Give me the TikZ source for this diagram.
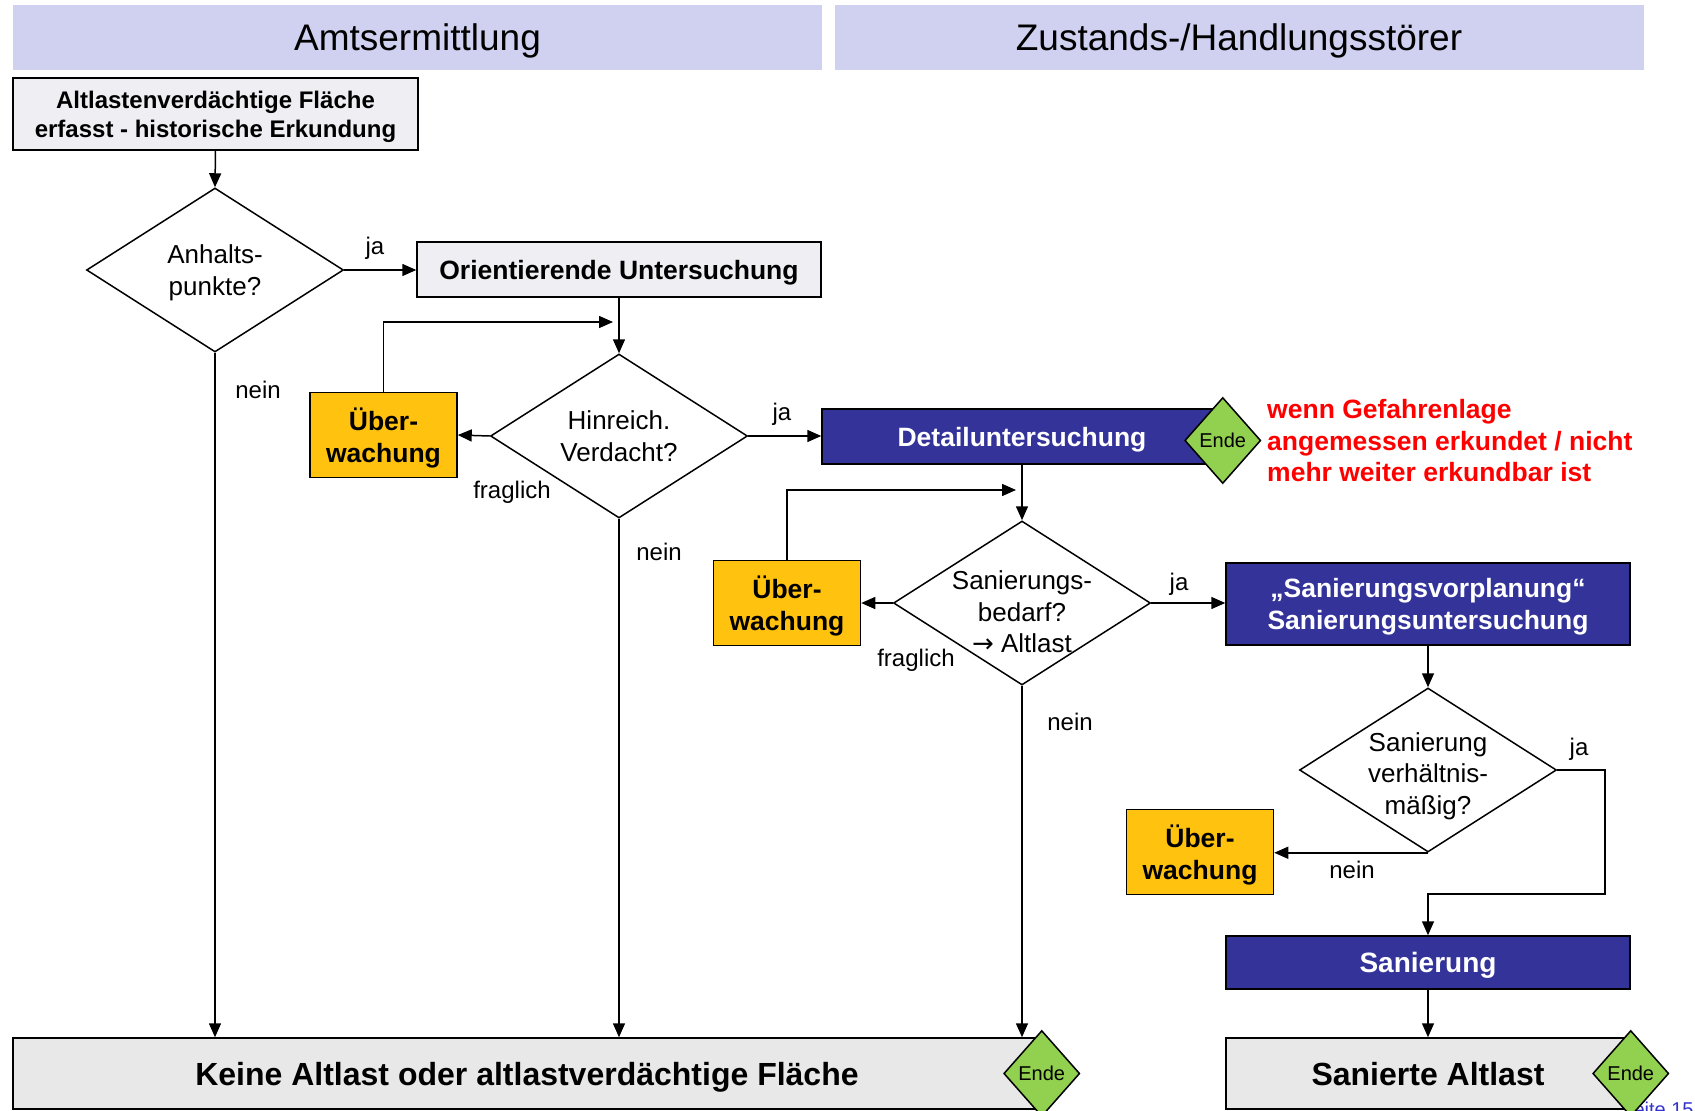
\documentclass[tikz,border=0pt]{standalone}
\usepackage{fontspec}
\setmainfont{Liberation Sans}
\newfontfamily\symfont{DejaVu Sans}
\usetikzlibrary{shapes.geometric,arrows.meta}
\definecolor{hdrcol}{RGB}{208,208,240}
\definecolor{boxgray}{RGB}{238,238,243}
\definecolor{endgray}{RGB}{232,232,232}
\definecolor{dblue}{RGB}{51,51,153}
\definecolor{uorange}{RGB}{255,194,14}
\definecolor{egreen}{RGB}{146,208,80}
\definecolor{warnred}{RGB}{255,0,0}
\definecolor{pageblue}{RGB}{51,51,204}
\newcommand\myfs[2]{\fontsize{#1}{#2}\selectfont}
\begin{document}
\begin{tikzpicture}[x=1pt,y=-1pt,
  hdr/.style={fill=hdrcol, minimum width=809pt, minimum height=65pt, inner sep=0pt, text depth=-0.8pt, font=\myfs{37}{44}},
  gbox/.style={draw, line width=1.5pt, fill=boxgray, inner sep=0pt, align=center, font=\bfseries\myfs{24}{29}},
  bbox/.style={draw, line width=1.5pt, fill=dblue, text=white, inner sep=0pt, align=center, text depth=-0.8pt, font=\bfseries\myfs{26.5}{31.5}},
  ubox/.style={draw, line width=1.5pt, fill=uorange, minimum width=147pt, minimum height=85pt, inner sep=0pt, align=center, text depth=-0.8pt, font=\bfseries\myfs{26.5}{31.5}},
  fbox/.style={draw, line width=1.5pt, fill=endgray, inner sep=0pt, align=center, text depth=-5.5pt, font=\bfseries\myfs{32}{38}},
  dia/.style={diamond, draw, line width=1.5pt, fill=white, minimum width=257pt, minimum height=164pt, inner sep=0pt},
  dtext/.style={align=center, font=\myfs{26}{31.5}, inner sep=0pt},
  ende/.style={diamond, draw, line width=1.5pt, fill=egreen, minimum width=76pt, minimum height=86pt, inner sep=0pt, aspect=0.88, font=\myfs{20}{24}},
  lbl/.style={font=\myfs{24}{28}, inner sep=0pt},
  arr/.style={line width=1.5pt, -{Triangle[length=14pt,width=12pt]}},
]
\useasboundingbox (0,0) rectangle (1695,1111);

% headers
\node[hdr] (h1) at (417.5,37.5) {Amtsermittlung};
\node[hdr] (h2) at (1239,37.5) {Zustands-/Handlungsstörer};

% boxes
\node[gbox, minimum width=405pt, minimum height=72pt, text depth=-3.6pt] (b1) at (215.5,114) {Altlastenverdächtige Fläche\\erfasst - historische Erkundung};
\node[dia, label={[dtext,name=d1t,text depth=-4.5pt]center:{Anhalts-\\punkte?}}] (d1) at (215,270) {};
\node[gbox, minimum width=404pt, minimum height=55pt, text depth=-0.8pt, font=\bfseries\myfs{26.5}{31.5}] (ou) at (619,269.5) {Orientierende Untersuchung};
\node[dia, label={[dtext,name=d2t]center:{Hinreich.\\Verdacht?}}] (d2) at (619,436) {};
\node[ubox] (ue1) at (383.5,435) {Über-\\wachung};
\node[bbox, minimum width=400pt, minimum height=55pt] (det) at (1022,436.5) {Detailuntersuchung};
\node[ende, yshift=-4pt] (e1) at (det.east) {Ende};
\node[anchor=west, align=left, text=warnred, font=\bfseries\myfs{26.5}{31.5}, inner sep=0pt] (warn) at (1267,441) {wenn Gefahrenlage\\angemessen erkundet / nicht\\mehr weiter erkundbar ist};

\node[dia, label={[dtext,name=d3t,yshift=-9pt]center:{Sanierungs-\\bedarf?\\{\symfont →} Altlast}}] (d3) at (1022,603) {};
\node[ubox] (ue2) at (787,603) {Über-\\wachung};
\node[bbox, minimum width=404pt, minimum height=82pt] (sv) at (1428,604) {„Sanierungsvorplanung“\\Sanierungsuntersuchung};

\node[dia, label={[dtext,name=d4t,yshift=-4pt,text depth=1pt]center:{Sanierung\\verhältnis-\\mäßig?}}] (d4) at (1428,770) {};
\node[ubox] (ue3) at (1200,852) {Über-\\wachung};
\node[bbox, minimum width=404pt, minimum height=53pt, text depth=-0.5pt, font=\bfseries\myfs{28}{33}] (san) at (1428,962.5) {Sanierung};

\node[fbox, minimum width=1028pt, minimum height=71pt] (keine) at (527,1073.5) {Keine Altlast oder altlastverdächtige Fläche};
\node[ende] (e2) at (keine.east) {Ende};
\node[fbox, minimum width=404pt, minimum height=71pt] (sa) at (1428,1073.5) {Sanierte Altlast};
\node[anchor=base west, text=pageblue, font=\myfs{20}{24}, inner sep=0pt] (seite) at (1620,1116) {Seite 15};
\node[ende] (e3) at (sa.east) {Ende};

% loop coordinates
\coordinate (l1) at (613,322);
\coordinate (l2) at (1016,490);
\coordinate (j1) at (1605,894);

% connectors
\draw[arr] (b1.south) -- (d1.north);
\draw[arr] (d1.east) -- (d1.east -| ou.west);
\draw[arr] (d1.south) -- (d1.south |- keine.north);
\draw[arr] (ou.south) -- (d2.north);
\draw[arr] (ue1.north) |- (l1);
\draw[arr] (d2.west) -- (ue1.east);
\draw[arr] (d2.east) -- (d2.east -| det.west);
\draw[arr] (d2.south) -- (d2.south |- keine.north);
\draw[arr] (det.south -| d3.north) -- (d3.north);
\draw[arr] (ue2.north) |- (l2);
\draw[arr] (d3.west) -- (ue2.east);
\draw[arr] (d3.east) -- (d3.east -| sv.west);
\draw[arr] (d3.south) -- (d3.south |- keine.north);
\draw[arr] (sv.south) -- (d4.north);
\draw[arr] (d4.south) -- (d4.south -| ue3.east);
\draw[arr] (d4.east) -| (j1) -| (san.north);
\draw[arr] (san.south) -- (sa.north);

% labels
\node[lbl] (la1) at (375,248) {ja};
\node[lbl] (la2) at (258,390) {nein};
\node[lbl] (la3) at (782,414) {ja};
\node[lbl] (la4) at (512,492) {fraglich};
\node[lbl] (la5) at (659,552) {nein};
\node[lbl] (la6) at (1179,584) {ja};
\node[lbl] (la7) at (916,660) {fraglich};
\node[lbl] (la8) at (1070,722) {nein};
\node[lbl] (la9) at (1579,749) {ja};
\node[lbl] (la10) at (1352,870) {nein};
\end{tikzpicture}
\end{document}
